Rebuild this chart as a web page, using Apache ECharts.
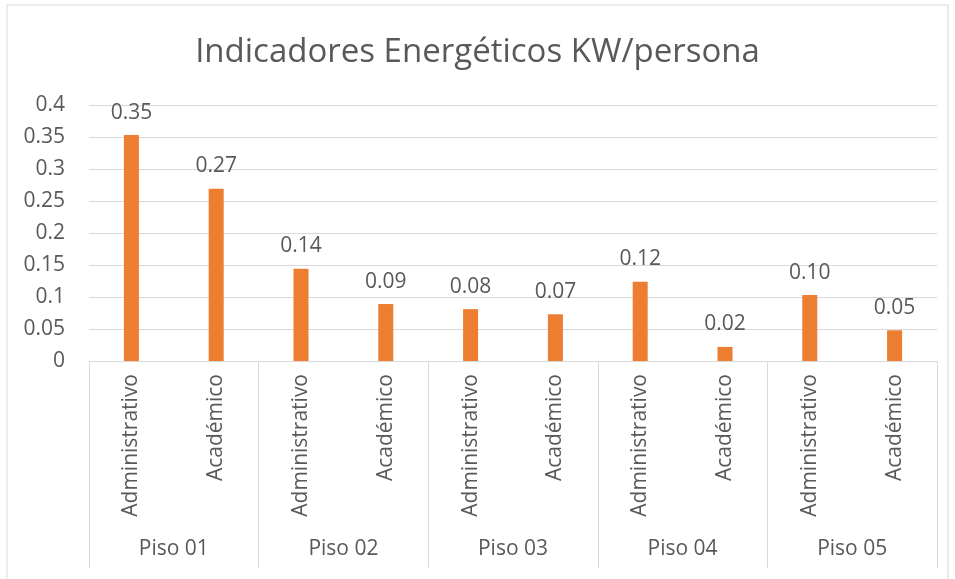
<!DOCTYPE html>
<html>
<head>
<meta charset="utf-8">
<script src="https://cdn.jsdelivr.net/npm/echarts@6/dist/echarts.min.js"></script>
<style>
  html, body { margin: 0; padding: 0; background: #fff; }
  #chart { width: 955px; height: 579px; }
</style>
</head>
<body>
<div id="chart"></div>
<script>
// categorias y valores
const pisos = ['Piso 01', 'Piso 02', 'Piso 03', 'Piso 04', 'Piso 05']
const areas = ['Administrativo', 'Académico', 'Administrativo', 'Académico', 'Administrativo',
               'Académico', 'Administrativo', 'Académico', 'Administrativo', 'Académico']
const valores = [0.353, 0.269, 0.144, 0.089, 0.081, 0.073, 0.124, 0.022, 0.103, 0.048]

const fuente = 'Open Sans'
const gris = '#595959'

const chart = echarts.init(document.getElementById('chart'))

chart.setOption({
    animation: false,
    title: {
        text: 'Indicadores Energéticos KW/persona',
        left: 'center',
        top: 31,
        textStyle: { fontFamily: fuente, fontSize: 33, fontWeight: 'normal', color: gris }
    },
    //borde exterior
    graphic: [{
        type: 'rect',
        shape: { x: 7, y: 5, width: 941, height: 580 },
        style: { fill: 'none', stroke: '#D9D9D9', lineWidth: 1 }
    }],
    grid: { left: 89, right: 18, top: 105, bottom: 218 },
    xAxis: [
        {
            type: 'category',
            data: areas,
            axisLine: { lineStyle: { color: '#D9D9D9' } },
            axisTick: { show: false },
            axisLabel: {
                rotate: 90, interval: 0, margin: 13,
                fontFamily: fuente, fontSize: 21, color: gris
            }
        },
        {
            type: 'category',
            data: pisos,
            position: 'bottom',
            offset: 207,
            axisLine: { show: false },
            axisTick: { show: true, inside: true, length: 207, interval: 0, lineStyle: { color: '#D9D9D9' } },
            axisLabel: {
                inside: true, margin: 8, interval: 0,
                fontFamily: fuente, fontSize: 21, color: gris
            }
        }
    ],
    yAxis: {
        type: 'value',
        min: 0,
        max: 0.4,
        interval: 0.05,
        axisLine: { show: false },
        axisTick: { show: false },
        splitLine: { lineStyle: { color: '#D9D9D9' } },
        axisLabel: { margin: 24, fontFamily: fuente, fontSize: 21, color: gris }
    },
    series: [
        {
            name: 'KW/persona',
            type: 'bar',
            data: valores,
            barWidth: 15,
            itemStyle: { color: '#ED7D31' },
            label: {
                show: true,
                position: 'top',
                distance: 12,
                fontFamily: fuente, fontSize: 21, color: gris,
                formatter: p => p.value.toFixed(2)
            }
        }
    ]
})
</script>
</body>
</html>
